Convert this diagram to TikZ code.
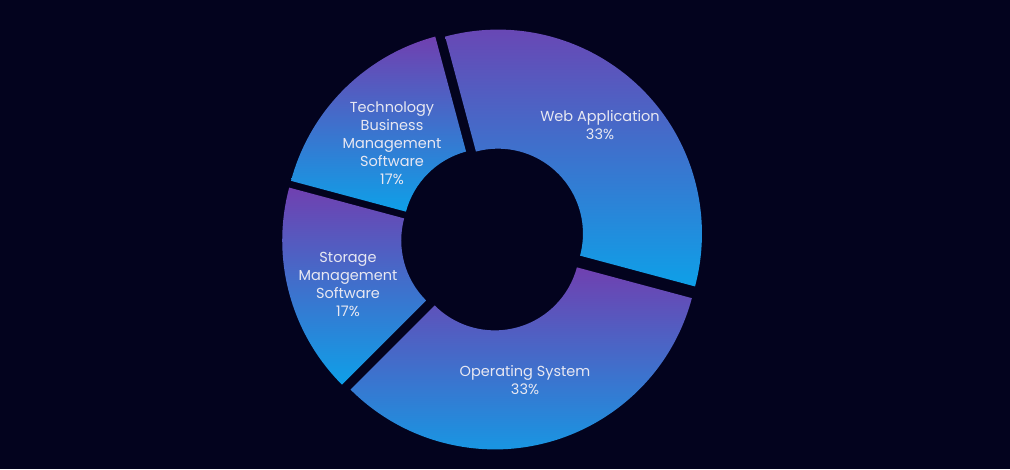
\documentclass[tikz,border=0pt]{standalone}
\usepackage{fontspec}
\setmainfont{Poppins}
\definecolor{bgnavy}{RGB}{3,3,30}
\definecolor{segtop}{RGB}{112,64,176}
\definecolor{segbot}{RGB}{14,160,232}
\definecolor{labeltext}{RGB}{232,232,242}
\begin{document}
\begin{tikzpicture}[x=1pt, y=1pt]
        \tikzstyle{every node}=[align=center, text=labeltext, inner sep=0pt, font=\fontsize{14.5}{18}\selectfont]
        \tikzstyle{seg}=[top color=segtop, bottom color=segbot]

        \fill[bgnavy] (0,0) rectangle (1010,469);
        \useasboundingbox (0,0) rectangle (1010,469);

        % ring segments, each pushed out along its middle
        \begin{scope}[shift={(493,230.4)}]
        \foreach \a/\b in {105/-15, -15/-135, -135/-195, -195/-255}
            \shade[seg, shift={({(\a+\b)/2}:7)}] (\a:204) arc[start angle=\a, end angle=\b, radius=204]
                -- (\b:85) arc[start angle=\b, end angle=\a, radius=85] -- cycle;
        \end{scope}

        \node (web) at (600,344)   {Web Application\\33\%};
        \node (os)  at (525,88.5)  {Operating System\\33\%};
        \node (sms) at (348,185)   {Storage\\Management\\Software\\17\%};
        \node (tbm) at (392,326)   {Technology\\Business\\Management\\Software\\17\%};
\end{tikzpicture}
\end{document}
